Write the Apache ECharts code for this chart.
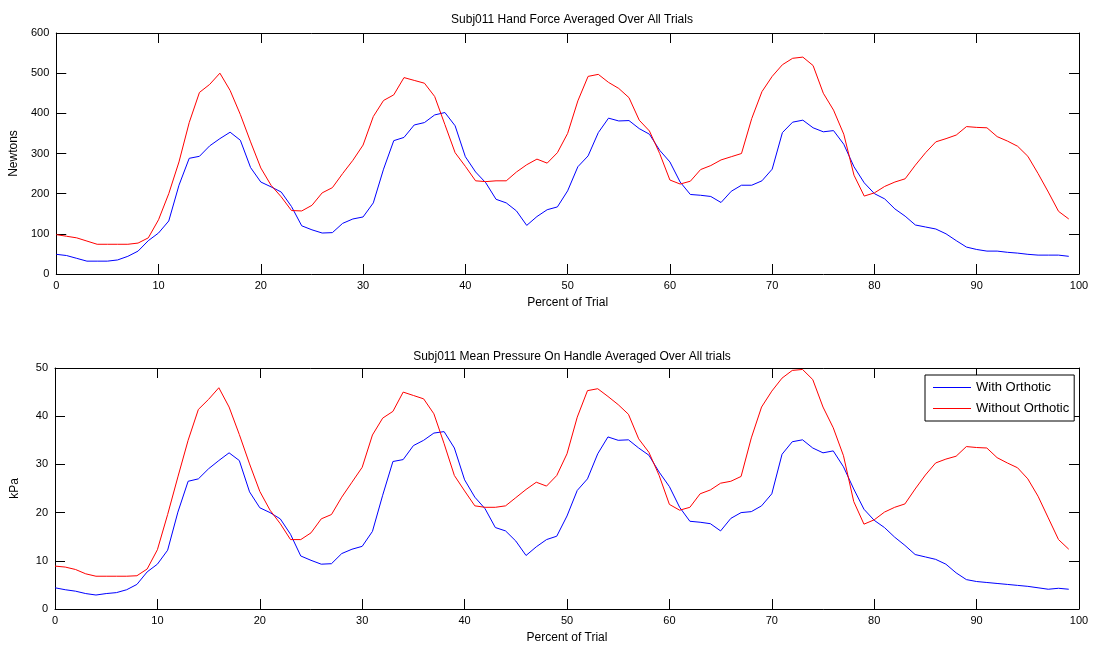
<!DOCTYPE html>
<html>
<head>
<meta charset="utf-8">
<script src="https://cdn.jsdelivr.net/npm/echarts@6/dist/echarts.min.js"></script>
<style>html,body{margin:0;padding:0;background:#fff}#c{width:1097px;height:649px}</style>
</head>
<body>
<div id="c"></div>
<script>
// Percent of trial (x positions of samples)
const percent = Array.from({length: 100}, (_, i) => i);

const xTicks = [0, 10, 20, 30, 40, 50, 60, 70, 80, 90, 100];
const forceTicks = [0, 100, 200, 300, 400, 500, 600];
const pressureTicks = [0, 10, 20, 30, 40, 50];

// Hand force (Newtons)
const forceWith = [49,46,39,32,32,32,35,44,57,83,102,132,221,288,293,319,337,353,333,265,
  229,217,204,168,120,110,102,103,126,137,142,177,261,332,340,371,377,396,402,369,
  292,254,227,186,177,157,121,143,160,167,207,267,294,352,388,381,382,362,348,308,
  279,229,198,196,193,178,206,221,221,232,261,352,378,383,364,354,357,323,267,227,
  200,187,162,144,122,117,112,100,83,67,61,57,57,54,52,49,47,47,47,44];
const forceWithout = [98,94,90,82,74,74,74,74,77,90,135,200,279,377,452,472,500,457,397,329,
  264,221,192,158,157,171,202,215,250,283,321,392,432,446,489,482,475,442,372,302,
  268,232,230,232,232,254,272,286,276,302,350,431,492,497,477,462,439,383,356,300,
  234,224,231,260,270,284,292,300,387,454,492,521,537,540,519,450,408,348,246,194,
  202,218,229,237,271,302,329,337,346,367,365,364,342,331,318,293,250,204,156,137];

// Mean pressure (kPa)
const pressureWith = [4.4,4.0,3.7,3.2,2.9,3.2,3.4,4.0,5.1,7.7,9.3,12.2,20.1,26.5,27.0,29.1,30.8,32.4,30.8,24.3,
  21.0,20.0,18.7,15.5,11.0,10.1,9.3,9.4,11.5,12.4,13.0,16.1,23.6,30.6,31.0,33.9,35.0,36.5,36.8,33.4,
  26.8,23.2,20.8,16.9,16.2,14.1,11.1,12.9,14.4,15.1,19.3,24.6,27.0,32.2,35.7,35.0,35.1,33.4,31.9,28.4,
  25.4,21.1,18.2,18.0,17.7,16.2,18.8,20.0,20.2,21.4,23.9,32.1,34.7,35.1,33.4,32.4,32.8,29.5,24.9,20.7,
  18.4,16.9,14.9,13.2,11.3,10.8,10.3,9.3,7.5,6.1,5.7,5.5,5.3,5.1,4.9,4.7,4.4,4.1,4.3,4.1];
const pressureWithout = [8.9,8.7,8.2,7.3,6.8,6.8,6.8,6.8,6.9,8.3,12.3,19.6,27.4,35.0,41.4,43.5,45.9,41.9,36.2,30.1,
  24.4,20.5,17.7,14.4,14.4,15.8,18.7,19.6,23.2,26.3,29.4,36.1,39.6,41.0,45.0,44.3,43.6,40.5,34.3,27.7,
  24.5,21.4,21.1,21.1,21.4,23.1,24.8,26.3,25.5,27.7,32.2,39.8,45.3,45.7,44.1,42.4,40.4,35.3,32.5,27.7,
  21.7,20.5,21.1,23.9,24.7,26.1,26.5,27.5,35.5,41.9,45.2,47.9,49.5,49.7,47.6,41.9,37.6,31.8,22.3,17.6,
  18.5,20.1,21.1,21.8,24.9,27.8,30.3,31.1,31.7,33.7,33.5,33.4,31.4,30.3,29.3,27.0,23.4,18.9,14.4,12.4];

const seriesNames = ['With Orthotic', 'Without Orthotic'];
const titles = ['Subj011 Hand Force Averaged Over All Trials', 'Subj011 Mean Pressure On Handle Averaged Over All trials'];
const yNames = ['Newtons', 'kPa'];
const xName = 'Percent of Trial';

const pairs = (vals) => vals.map((v, i) => [percent[i], v]);
const FONT = 'Liberation Sans, Arial, sans-serif';
const NARROW = '"Liberation Sans Narrow", "Liberation Sans", Arial, sans-serif';

function xAxes(gi) {
  const base = {
    type: 'value', gridIndex: gi, min: xTicks[0], max: xTicks[xTicks.length - 1], interval: 10,
    splitLine: {show: false},
    axisLine: {show: true, onZero: false, lineStyle: {color: '#000', width: 1}},
    axisTick: {show: true, inside: true, length: 10, lineStyle: {color: '#000'}},
  };
  return [
    Object.assign({}, base, {position: 'bottom',
      axisLabel: {color: '#000', fontSize: 11, fontFamily: FONT, margin: 6},
      name: xName, nameLocation: 'middle', nameGap: 23,
      nameTextStyle: {color: '#000', fontSize: 12, fontFamily: NARROW}}),
    Object.assign({}, base, {position: 'top', axisLabel: {show: false}})
  ];
}
function yAxes(gi, ticks, name) {
  const base = {
    type: 'value', gridIndex: gi, min: ticks[0], max: ticks[ticks.length - 1], interval: ticks[1] - ticks[0],
    splitLine: {show: false},
    axisLine: {show: true, onZero: false, lineStyle: {color: '#000', width: 1}},
    axisTick: {show: true, inside: true, length: 10, lineStyle: {color: '#000'}},
  };
  return [
    Object.assign({}, base, {position: 'left',
      axisLabel: {color: '#000', fontSize: 11, fontFamily: FONT, margin: 7},
      name: name, nameLocation: 'middle', nameGap: 34,
      nameTextStyle: {color: '#000', fontSize: 12, fontFamily: NARROW}}),
    Object.assign({}, base, {position: 'right', axisLabel: {show: false}})
  ];
}

const lineSeries = (name, vals, axisIdx) => ({
  name: name, type: 'line', data: pairs(vals),
  xAxisIndex: axisIdx, yAxisIndex: axisIdx,
  symbol: 'none', showSymbol: false, animation: false,
  lineStyle: {width: 1, color: name === seriesNames[0] ? '#0000ff' : '#ff0000'},
  itemStyle: {color: name === seriesNames[0] ? '#0000ff' : '#ff0000'}
});

const chart = echarts.init(document.getElementById('c'), null, {renderer: 'canvas'});
chart.setOption({
  backgroundColor: '#fff',
  animation: false,
  title: [
    {text: titles[0], left: 567, top: 9, textAlign: 'center',
     textStyle: {fontSize: 12, fontWeight: 'normal', color: '#000', fontFamily: NARROW}},
    {text: titles[1], left: 567, top: 346, textAlign: 'center',
     textStyle: {fontSize: 12, fontWeight: 'normal', color: '#000', fontFamily: NARROW}}
  ],
  grid: [
    {left: 55, top: 33, width: 1024, height: 241, show: true, borderColor: '#000', borderWidth: 0, backgroundColor: '#fff'},
    {left: 55, top: 368, width: 1024, height: 241, show: true, borderColor: '#000', borderWidth: 0, backgroundColor: '#fff'}
  ],
  xAxis: xAxes(0).concat(xAxes(1)),
  yAxis: yAxes(0, forceTicks, yNames[0]).concat(yAxes(1, pressureTicks, yNames[1])),
  legend: {
    data: seriesNames.map(n => ({name: n, icon: 'rect'})),
    orient: 'vertical', left: 925, top: 375,
    backgroundColor: '#fff', borderColor: '#000', borderWidth: 1, borderRadius: 0,
    padding: [5, 5, 5, 8], itemGap: 6, itemWidth: 38, itemHeight: 1,
    textStyle: {fontSize: 13, color: '#000', fontFamily: FONT, lineHeight: 15},
    selectedMode: false
  },
  series: [
    lineSeries(seriesNames[0], forceWith, 0),
    lineSeries(seriesNames[1], forceWithout, 0),
    lineSeries(seriesNames[0], pressureWith, 2),
    lineSeries(seriesNames[1], pressureWithout, 2)
  ]
});
</script>
</body>
</html>
